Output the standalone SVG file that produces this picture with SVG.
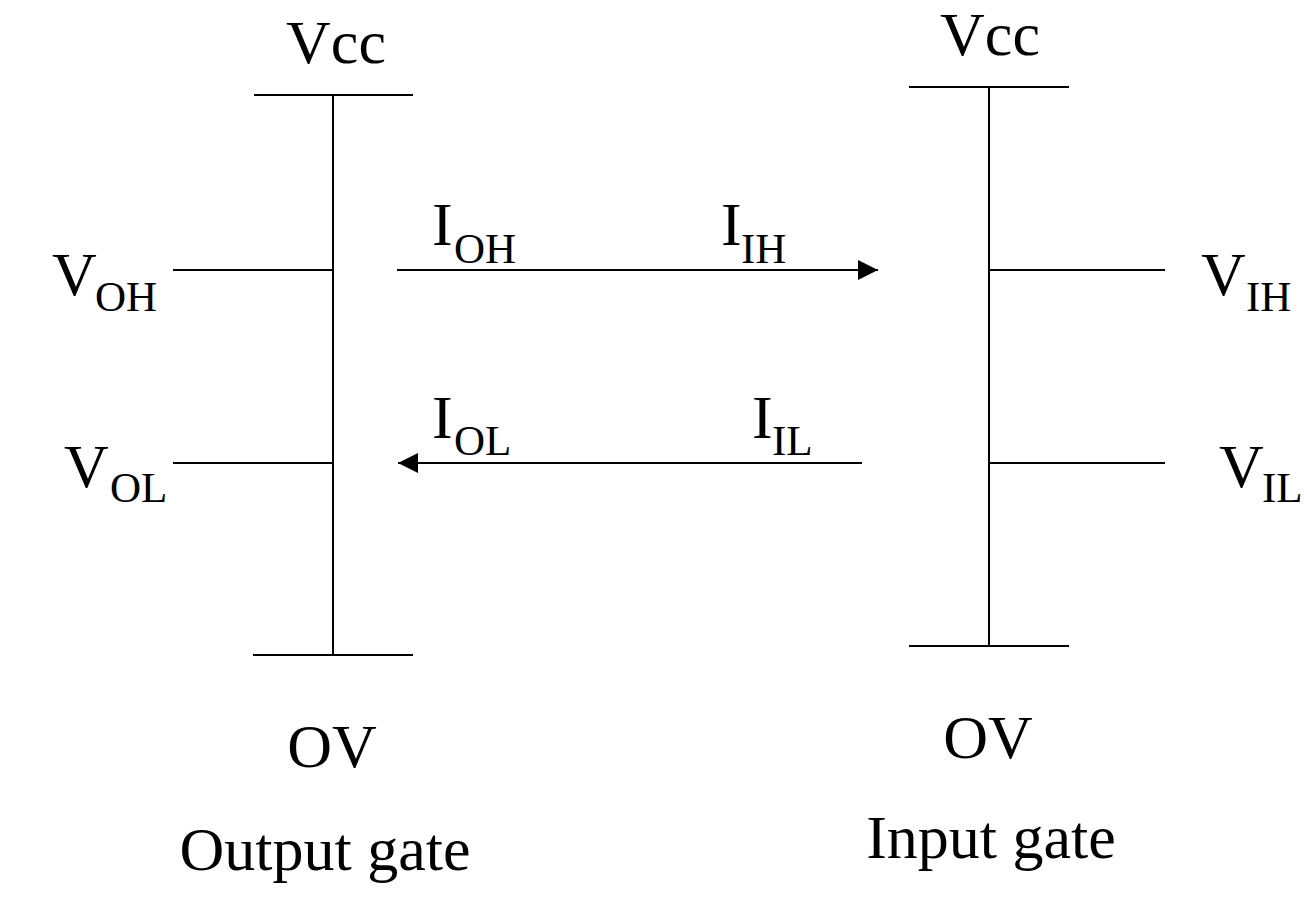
<svg xmlns="http://www.w3.org/2000/svg" width="1307" height="900" viewBox="0 0 1307 900">
<defs>
<style>
.ln{stroke:#000;stroke-width:2;fill:none}
.t{font-family:"Liberation Serif","Times New Roman",serif;font-size:62px;fill:#000}
.s{font-family:"Liberation Serif","Times New Roman",serif;font-size:43px;fill:#000}
.m{text-anchor:middle}
</style>
<marker id="ah" viewBox="0 0 20 20" refX="20" refY="10" markerWidth="20" markerHeight="20" markerUnits="userSpaceOnUse" orient="auto">
<path d="M0,0 L20,10 L0,20 Z" fill="#000"/>
</marker>
</defs>
<rect width="1307" height="900" fill="#fff"/>
<g id="output-gate">
<line class="ln" x1="333" y1="95" x2="333" y2="655"/>
<line class="ln" x1="254" y1="95" x2="413" y2="95"/>
<line class="ln" x1="253" y1="655" x2="413" y2="655"/>
<line class="ln" x1="173" y1="270" x2="333" y2="270"/>
<line class="ln" x1="173" y1="463" x2="333" y2="463"/>
<text class="t m" x="336" y="63">Vcc</text>
<text class="t" x="52" y="295">V</text><text class="s" x="95" y="311">OH</text>
<text class="t" x="64" y="487">V</text><text class="s" x="110" y="502">OL</text>
<text class="t m" x="332" y="767">OV</text>
<text class="t m" x="325" y="870">Output gate</text>
</g>
<g id="input-gate">
<line class="ln" x1="989" y1="87" x2="989" y2="646"/>
<line class="ln" x1="909" y1="87" x2="1069" y2="87"/>
<line class="ln" x1="909" y1="646" x2="1069" y2="646"/>
<line class="ln" x1="989" y1="270" x2="1165" y2="270"/>
<line class="ln" x1="989" y1="463" x2="1165" y2="463"/>
<text class="t m" x="990" y="55">Vcc</text>
<text class="t" x="1201" y="295">V</text><text class="s" x="1246" y="311">IH</text>
<text class="t" x="1219" y="487">V</text><text class="s" x="1262" y="502">IL</text>
<text class="t m" x="988" y="758">OV</text>
<text class="t m" x="991" y="858">Input gate</text>
</g>
<g id="connectors">
<line class="ln" x1="397" y1="270" x2="878" y2="270" marker-end="url(#ah)"/>
<line class="ln" x1="862" y1="463" x2="398" y2="463" marker-end="url(#ah)"/>
</g>
<g id="current-labels">
<text class="t" x="432" y="245">I</text><text class="s" x="454" y="263">OH</text>
<text class="t" x="721" y="245">I</text><text class="s" x="741" y="263">IH</text>
<text class="t" x="432" y="438">I</text><text class="s" x="454" y="455">OL</text>
<text class="t" x="752" y="438">I</text><text class="s" x="772" y="455">IL</text>
</g>
</svg>
